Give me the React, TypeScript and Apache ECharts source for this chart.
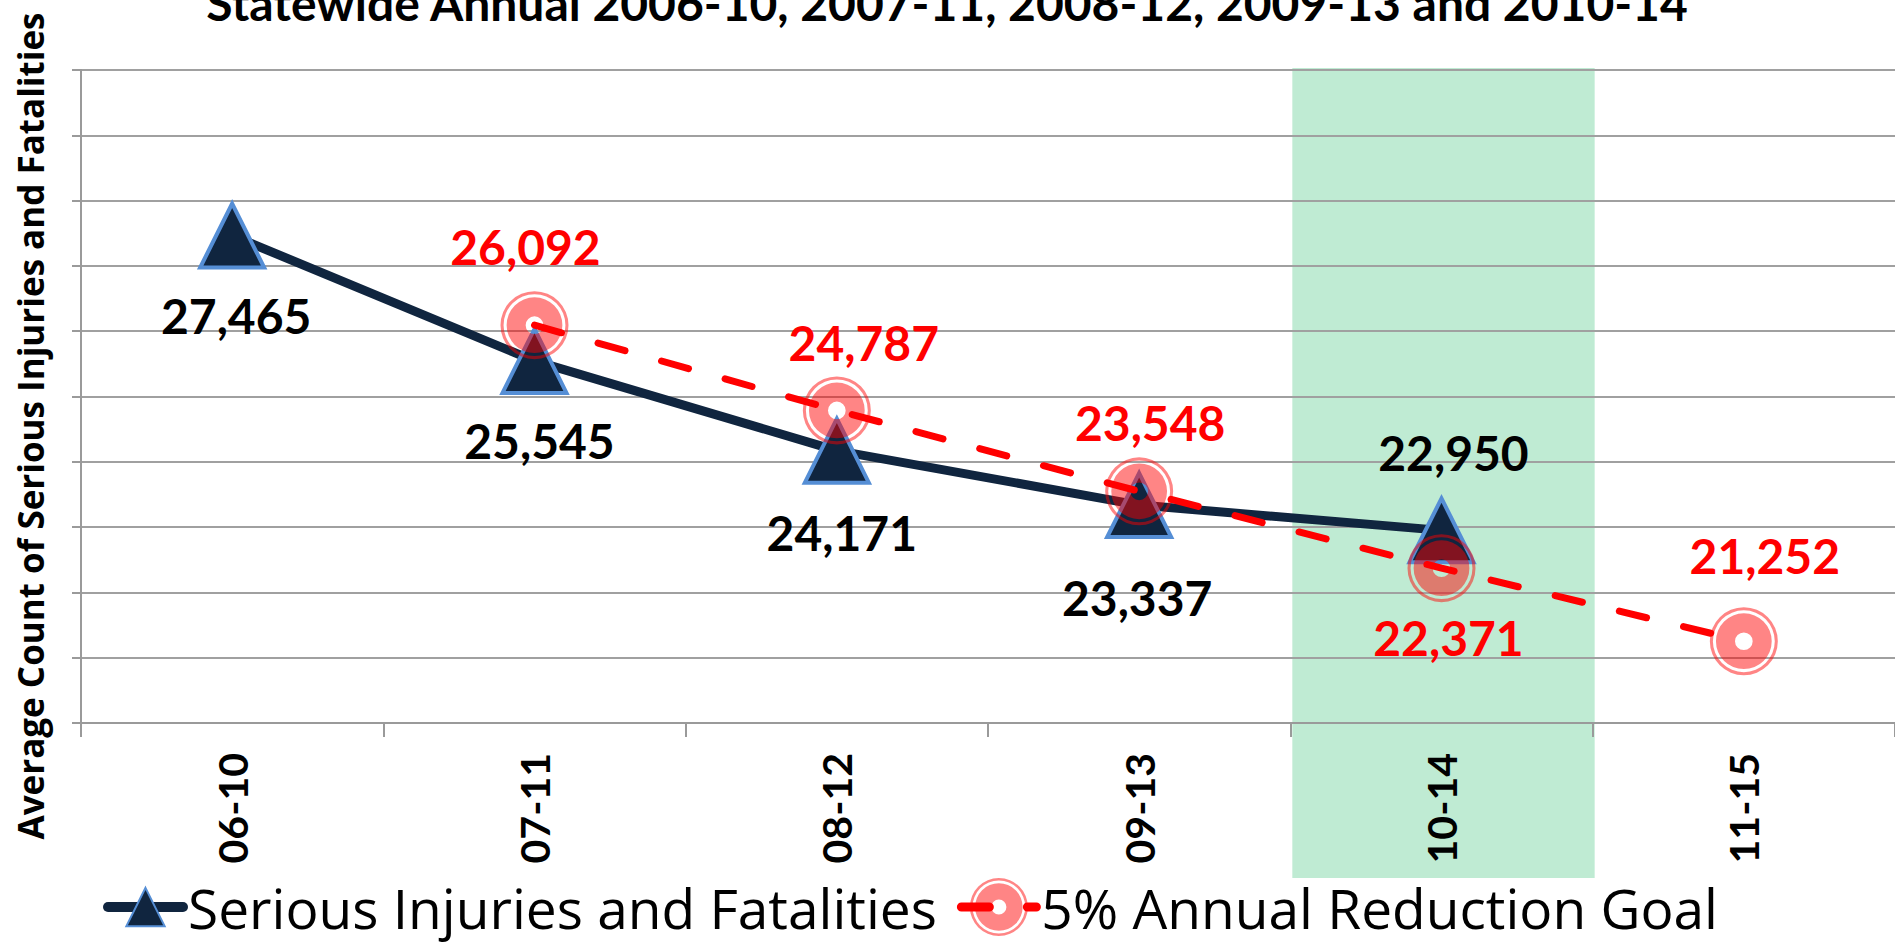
import React, { useEffect, useRef } from "react";
import * as echarts from "echarts";

// ---- data ----
const categories = ["06-10", "07-11", "08-12", "09-13", "10-14", "11-15"];
const seriousInjuriesFatalities = [27465, 25545, 24171, 23337, 22950, null];
const reductionGoal = [null, 26092, 24787, 23548, 22371, 21252];
const seriesNames = ["Serious Injuries and Fatalities", "5% Annual Reduction Goal"];
const highlightCategory = "10-14";
const titleText = "Statewide Annual 2006-10, 2007-11, 2008-12, 2009-13 and 2010-14";
const yAxisTitle = "Average Count of Serious Injuries and Fatalities";
const yMin = 20000;
const yMax = 30000;
const yStep = 1000;

// ---- label placement (style, px offsets from the point) ----
const sifLabelOffsets = [[4, 80], [5, 80], [5, 82], [-2, 92], [12, -78], [0, 0]];
const goalLabelOffsets = [[0, 0], [-9, -79], [27, -68], [11, -69], [7, 69], [21, -86]];

const NAVY = "#10253F";
const BLUE = "#558ED5";
const RED = "#FF0000";
const FONT = "Lato, 'Open Sans', sans-serif";
const FONT2 = "'Open Sans', Lato, sans-serif";

// triangle occupying 66% of its (padded) box so the legend icon is smaller
const TRI_PATH = "path://M0 0M100 100M50 17L83 83L17 83Z";
const circ = (r: number, sweep: number) =>
  `M${50 + r} 50A${r} ${r} 0 1 ${sweep} ${50 - r} 50A${r} ${r} 0 1 ${sweep} ${50 + r} 50Z`;
const TARGET_PATH = "path://" + circ(50, 1) + circ(45.5, 0) + circ(41, 1) + circ(13, 0);

const fmt = (v: number) => v.toLocaleString("en-US");

export default function App() {
  const ref = useRef<HTMLDivElement>(null);

  useEffect(() => {
    if (!ref.current) return;
    const chart = echarts.init(ref.current, undefined, { renderer: "svg" });
    const hlIndex = categories.indexOf(highlightCategory);

    const option: any = {
      animation: false,
      backgroundColor: "#ffffff",
      grid: { left: 81, right: 0, top: 70, bottom: 223, containLabel: false },
      graphic: [
        {
          type: "text",
          x: 947,
          y: 2,
          style: {
            text: titleText,
            font: `bold 48px ${FONT}`,
            fill: "#000",
            align: "center",
            verticalAlign: "middle",
          },
        },
        {
          type: "text",
          x: 30,
          y: 426,
          rotation: Math.PI / 2,
          style: {
            text: yAxisTitle,
            font: `bold 35px ${FONT2}`,
            fill: "#000",
            align: "center",
            verticalAlign: "middle",
          },
        },
      ],
      legend: {
        left: 98,
        top: 872,
        itemWidth: 75,
        itemHeight: 72.5,
        itemGap: 20,
        textStyle: { fontFamily: FONT2, fontSize: 55, lineHeight: 56, color: "#000" },
        data: [
          { name: seriesNames[0], lineStyle: { width: 10, cap: "round" } },
          { name: seriesNames[1], lineStyle: { width: 9, cap: "round" } },
        ],
      },
      xAxis: {
        type: "category",
        data: categories,
        boundaryGap: true,
        axisLine: { show: true, lineStyle: { color: "#9A9A9A", width: 2 } },
        axisTick: { show: true, length: 14, interval: 0, lineStyle: { color: "#9A9A9A", width: 2 } },
        axisLabel: {
          rotate: 90,
          interval: 0,
          margin: 30,
          fontFamily: FONT,
          fontWeight: "bold",
          fontSize: 41,
          color: "#000",
        },
        splitLine: { show: false },
      },
      yAxis: {
        type: "value",
        min: yMin,
        max: yMax,
        interval: yStep,
        axisLine: { show: true, lineStyle: { color: "#9A9A9A", width: 2 } },
        axisTick: { show: true, length: 9, lineStyle: { color: "#9A9A9A", width: 2 } },
        axisLabel: { show: false },
        splitLine: { show: true, lineStyle: { color: "#A0A0A0", width: 2 } },
      },
      series: [
        {
          type: "custom",
          name: "highlight",
          silent: true,
          clip: false,
          z: -1,
          data: [[hlIndex, yMax]],
          renderItem: (params: any, api: any) => {
            const top = api.coord([api.value(0), yMax]);
            const bottom = api.coord([api.value(0), yMin]);
            const w = api.size([1, 0])[0];
            return {
              type: "rect",
              shape: { x: top[0] - w / 2 + 2, y: top[1] - 2, width: w, height: bottom[1] - top[1] + 157 },
              style: { fill: "#BFEBD3" },
            };
          },
        },
        {
          type: "line",
          name: seriesNames[0],
          z: 3,
          data: seriousInjuriesFatalities.map((v, i) => ({
            value: v,
            label: { offset: sifLabelOffsets[i] },
          })),
          symbol: TRI_PATH,
          symbolSize: 97,
          lineStyle: { color: NAVY, width: 9 },
          itemStyle: { color: NAVY, borderColor: BLUE, borderWidth: 4 },
          label: {
            show: true,
            position: "inside",
            fontFamily: FONT,
            fontWeight: "bold",
            fontSize: 48,
            color: "#000",
            formatter: (p: any) => fmt(p.value),
          },
        },
        {
          type: "line",
          name: seriesNames[1],
          z: 4,
          data: reductionGoal.map((v, i) => ({
            value: v,
            label: { offset: goalLabelOffsets[i] },
          })),
          symbol: TARGET_PATH,
          symbolSize: 68,
          lineStyle: { color: RED, width: 7, type: [28, 38], cap: "round" },
          itemStyle: { color: "rgba(255,0,0,0.48)", borderWidth: 0 },
          label: {
            show: true,
            position: "inside",
            fontFamily: FONT,
            fontWeight: "bold",
            fontSize: 48,
            color: RED,
            formatter: (p: any) => fmt(p.value),
          },
        },
      ],
    };

    chart.setOption(option);
    return () => chart.dispose();
  }, []);

  return (
    <div
      ref={ref}
      style={{ position: "fixed", left: 0, top: 0, width: "1895px", height: "946px" }}
    />
  );
}
